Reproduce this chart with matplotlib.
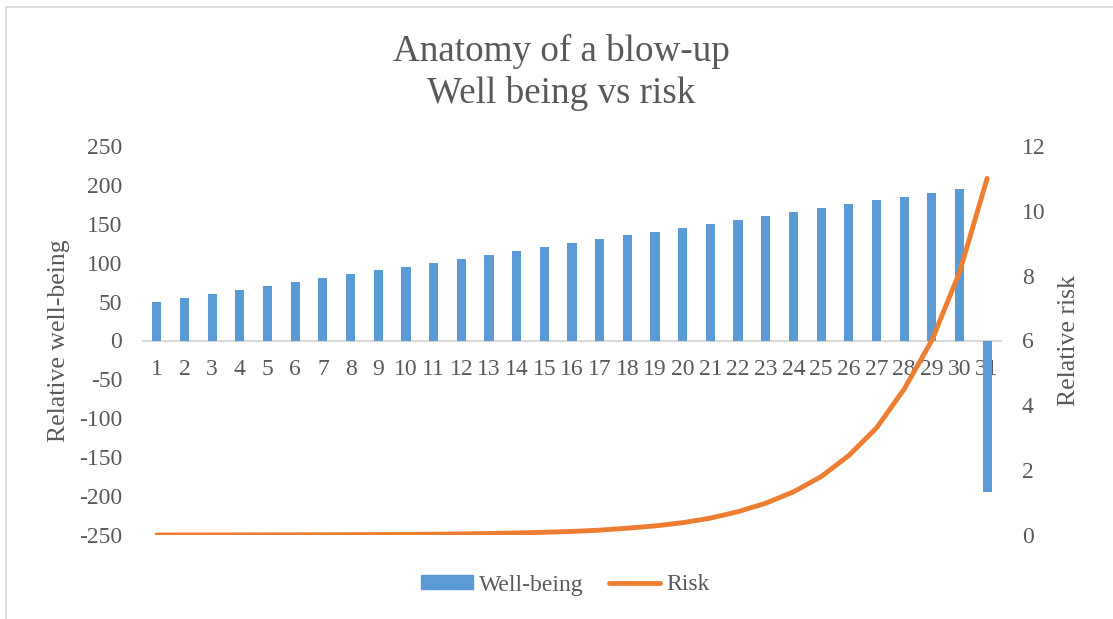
import matplotlib
matplotlib.use("Agg")
import matplotlib.pyplot as plt
from matplotlib.patches import Rectangle
from matplotlib.lines import Line2D

categories = list(range(1, 32))
wellbeing = [50, 55, 60, 65, 70, 75, 80, 85, 90, 95, 100, 105, 110, 115, 120, 125,
             130, 135, 140, 145, 150, 155, 160, 165, 170, 175, 180, 185, 190, 195, -195]
risk = [0.0, 0.002, 0.003, 0.004, 0.005, 0.006, 0.008, 0.01, 0.014, 0.019, 0.025,
        0.034, 0.046, 0.062, 0.084, 0.11, 0.15, 0.21, 0.28, 0.38, 0.52, 0.72, 0.98,
        1.33, 1.8, 2.45, 3.3, 4.5, 6.0, 8.1, 11.0]
ytick_left = [-250, -200, -150, -100, -50, 0, 50, 100, 150, 200, 250]
ytick_right = [0, 2, 4, 6, 8, 10, 12]

BLUE = "#5B9BD5"
ORANGE = "#ED7D31"
TXT = "#595959"
FONT = "Liberation Serif"

plt.rcParams['font.family'] = [FONT, 'DejaVu Serif']

fig = plt.figure(figsize=(11.13, 6.19), dpi=100)
fig.patch.set_facecolor("white")

# frame
fig.add_artist(Rectangle((6 / 1113, -0.05), 1.2, (1 - 7 / 619) + 0.05, transform=fig.transFigure,
                         fill=False, edgecolor="#D9D9D9", linewidth=1.2))

ax = fig.add_axes([143 / 1113, 1 - 535 / 619, (1001 - 143) / 1113, (535 - 146) / 619])
ax.bar(categories, wellbeing, width=0.33, color=BLUE, zorder=2)
ax.set_xlim(0.5, 31.5)
ax.set_ylim(-250, 250)
ax.set_yticks(ytick_left)
ax.set_yticklabels([str(v) for v in ytick_left])
ax.set_xticks(categories)
ax.set_xticklabels([str(c) for c in categories])
for s in ["top", "right", "left"]:
    ax.spines[s].set_visible(False)
ax.spines["bottom"].set_position(("data", 0))
ax.spines["bottom"].set_color("#D9D9D9")
ax.spines["bottom"].set_linewidth(1.5)
ax.spines["bottom"].set_zorder(1)
ax.tick_params(axis="x", length=0, pad=13, labelsize=17, labelcolor=TXT)
ax.tick_params(axis="y", length=0, pad=15, labelsize=17, labelcolor=TXT)
ax.set_ylabel("Relative well-being", fontsize=18.5, color=TXT)
ax.yaxis.set_label_coords(-0.085, 0.5)

ax2 = ax.twinx()
ax2.plot(categories, risk, color=ORANGE, linewidth=3.5, solid_capstyle="round", zorder=3)
ax2.set_ylim(0, 12)
ax2.set_yticks(ytick_right)
ax2.set_yticklabels([str(v) for v in ytick_right])
for s in ["top", "right", "left", "bottom"]:
    ax2.spines[s].set_visible(False)
ax2.tick_params(axis="y", length=0, pad=15, labelsize=17, labelcolor=TXT)
ax2.set_ylabel("Relative risk", fontsize=18.5, color=TXT)
ax2.yaxis.set_label_coords(1.067, 0.5)

fig.text(561.5 / 1113, 1 - 34 / 619, "Anatomy of a blow-up\nWell being vs risk", ha="center", va="top",
         fontsize=26.7, color=TXT, linespacing=1.25)

handles = [Rectangle((0, 0), 1, 1, color=BLUE), Line2D([0], [0], color=ORANGE, linewidth=3.5, solid_capstyle="round")]
fig.legend(handles, ["Well-being", "Risk"], loc="center", bbox_to_anchor=(565.5 / 1113, 1 - 585 / 619),
           ncol=2, frameon=False, fontsize=17, labelcolor=TXT, handlelength=2.2, handleheight=0.55,
           handletextpad=0.25, columnspacing=1.05)

fig.savefig("out.png", dpi=100, facecolor="white")
